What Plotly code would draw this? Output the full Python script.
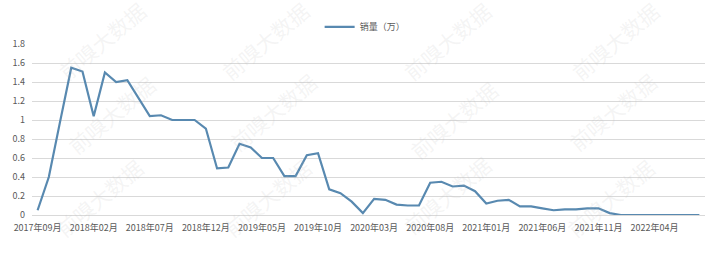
import plotly.graph_objects as go
import pandas as pd

months = [d.strftime("%Y年%m月") for d in pd.date_range("2017-09-01", "2022-08-01", freq="MS")]
sales = [0.05, 0.40, 0.98, 1.55, 1.51, 1.04, 1.50, 1.40, 1.42, 1.23,
         1.04, 1.05, 1.00, 1.00, 1.00, 0.91, 0.49, 0.50, 0.75, 0.71,
         0.60, 0.60, 0.41, 0.41, 0.63, 0.65, 0.27, 0.23, 0.14, 0.02,
         0.17, 0.16, 0.11, 0.10, 0.10, 0.34, 0.35, 0.30, 0.31, 0.25,
         0.12, 0.15, 0.16, 0.09, 0.09, 0.07, 0.05, 0.06, 0.06, 0.07,
         0.07, 0.02, 0.0, 0.0, 0.0, 0.0, 0.0, 0.0, 0.0, 0.0]
tick_labels = months[::5]
y_ticks = [0, 0.2, 0.4, 0.6, 0.8, 1, 1.2, 1.4, 1.6, 1.8]
y_text = ["0", "0.2", "0.4", "0.6", "0.8", "1", "1.2", "1.4", "1.6", "1.8"]
series_name = "销量（万）"
watermark = "前嗅大数据"

FONT = "Noto Sans CJK SC"
GRAY = "#595959"

fig = go.Figure()
fig.add_trace(go.Scatter(
    x=months, y=sales, mode="lines", name=series_name,
    line=dict(color="#5889B0", width=2.2),
))

# faint watermarks
wm_pos = [(75, -4), (250, -4), (445, -4), (625, -4),
          (85, 105), (258, 100), (452, 112), (622, 100),
          (72, 228), (252, 228), (445, 224), (620, 228)]
for (px, py) in wm_pos:
    fig.add_annotation(
        x=px / 721, y=1 - py / 253, xref="paper", yref="paper",
        text=watermark, showarrow=False, textangle=-40,
        font=dict(family=FONT, size=21, color="rgba(190,190,190,0.16)"),
        xanchor="center", yanchor="middle",
    )

fig.update_layout(
    width=721, height=253,
    margin=dict(l=32, r=16, t=36, b=38),
    paper_bgcolor="white", plot_bgcolor="white",
    font=dict(family=FONT, size=9, color=GRAY),
    showlegend=True,
    legend=dict(orientation="h", x=0.495, xanchor="center", y=1.1, yanchor="middle",
                font=dict(family=FONT, size=9, color=GRAY), bgcolor="rgba(0,0,0,0)",
                itemwidth=30),
    xaxis=dict(
        type="category", range=[-0.5, len(months) - 0.5],
        tickmode="array", tickvals=tick_labels, ticktext=tick_labels,
        showgrid=False, showline=False, zeroline=False, ticks="",
        tickangle=0, ticklabelstandoff=6,
        tickfont=dict(family=FONT, size=9, color=GRAY),
    ),
    yaxis=dict(
        range=[0, 1.8], tickmode="array", tickvals=y_ticks, ticktext=y_text,
        showgrid=True, gridcolor="#d9d9d9", gridwidth=1,
        zeroline=True, zerolinecolor="#d9d9d9", zerolinewidth=1,
        showline=False, ticks="", ticklabelstandoff=6,
        tickfont=dict(family=FONT, size=9, color=GRAY),
    ),
)

fig.write_html("out.html")
